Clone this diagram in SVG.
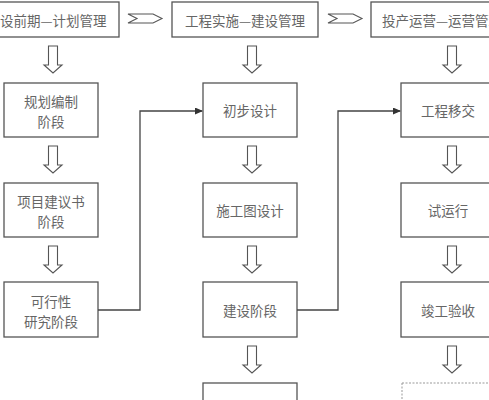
<svg xmlns="http://www.w3.org/2000/svg" width="489" height="400" viewBox="0 0 489 400">
<style>
.box{fill:#fff;stroke:#555;stroke-width:1.3}
.dash{fill:#fff;stroke:#999;stroke-width:1;stroke-dasharray:2 1.5}
.t{font-family:"Noto Sans CJK SC","Noto Sans",sans-serif;font-size:13.5px;fill:#666;text-anchor:middle;dominant-baseline:central}
.ts{font-family:"Noto Sans CJK SC","Noto Sans",sans-serif;font-size:13.5px;fill:#666;dominant-baseline:central}
.blk{fill:#fff;stroke:#555;stroke-width:1.1;stroke-linejoin:miter}
.ln{fill:none;stroke:#444;stroke-width:1.3}
</style>
<defs>
<marker id="ah" markerWidth="8" markerHeight="7" refX="7" refY="3.5" orient="auto" markerUnits="userSpaceOnUse">
<path d="M0,0 L8,3.5 L0,7 Z" fill="#333"/>
</marker>
<path id="down" d="M-4.5,0 H4.5 V19 H9 L0,27 L-9,19 H-4.5 Z"/>
<path id="right" d="M0,0 H25 L34,4.5 L25,9 H0 L9,4.5 Z"/>
</defs>

<g id="phase1">
<rect class="box" x="-27" y="2" width="146" height="35"/>
<text class="ts" x="0" y="20">设前期—计划管理</text>
</g>
<g id="phase2">
<rect class="box" x="172" y="2" width="146" height="35"/>
<text class="t" x="245" y="20">工程实施—建设管理</text>
</g>
<g id="phase3">
<rect class="box" x="371" y="2" width="146" height="35"/>
<text class="ts" x="382" y="20">投产运营—运营管理</text>
</g>

<g id="n-guihua">
<rect class="box" x="4" y="83" width="94" height="54"/>
<text class="t" x="51" y="101">规划编制</text>
<text class="t" x="51" y="121">阶段</text>
</g>
<g id="n-xiangmu">
<rect class="box" x="4" y="183" width="94" height="54"/>
<text class="t" x="51" y="201">项目建议书</text>
<text class="t" x="51" y="221">阶段</text>
</g>
<g id="n-kexing">
<rect class="box" x="4" y="282" width="94" height="55"/>
<text class="t" x="51" y="301">可行性</text>
<text class="t" x="51" y="321">研究阶段</text>
</g>

<g id="n-chubu">
<rect class="box" x="203" y="83" width="94" height="54"/>
<text class="t" x="250" y="110">初步设计</text>
</g>
<g id="n-shigong">
<rect class="box" x="203" y="183" width="94" height="54"/>
<text class="t" x="250" y="210">施工图设计</text>
</g>
<g id="n-jianshe">
<rect class="box" x="203" y="282" width="94" height="55"/>
<text class="t" x="250" y="310">建设阶段</text>
</g>
<g id="n-col2-last">
<rect class="box" x="203" y="383" width="94" height="40"/>
</g>

<g id="n-yijiao">
<rect class="box" x="401" y="83" width="94" height="54"/>
<text class="t" x="448" y="110">工程移交</text>
</g>
<g id="n-shiyunxing">
<rect class="box" x="401" y="183" width="94" height="54"/>
<text class="t" x="448" y="210">试运行</text>
</g>
<g id="n-jungong">
<rect class="box" x="401" y="282" width="94" height="55"/>
<text class="t" x="448" y="310">竣工验收</text>
</g>
<g id="n-col3-last">
<rect class="dash" x="402" y="383" width="94" height="40"/>
</g>

<g id="connectors">
<use href="#right" class="blk" x="128" y="14"/>
<use href="#right" class="blk" x="328" y="14"/>
<use href="#down" class="blk" x="53" y="46"/>
<use href="#down" class="blk" x="53" y="146"/>
<use href="#down" class="blk" x="53" y="246"/>
<use href="#down" class="blk" x="252" y="46"/>
<use href="#down" class="blk" x="252" y="146"/>
<use href="#down" class="blk" x="252" y="246"/>
<use href="#down" class="blk" x="252" y="346"/>
<use href="#down" class="blk" x="452" y="46"/>
<use href="#down" class="blk" x="452" y="146"/>
<use href="#down" class="blk" x="452" y="246"/>
<use href="#down" class="blk" x="452" y="346"/>
<path class="ln" d="M98,310 H140 V111 H202" marker-end="url(#ah)"/>
<path class="ln" d="M297,310 H338 V111 H400" marker-end="url(#ah)"/>
</g>
</svg>
